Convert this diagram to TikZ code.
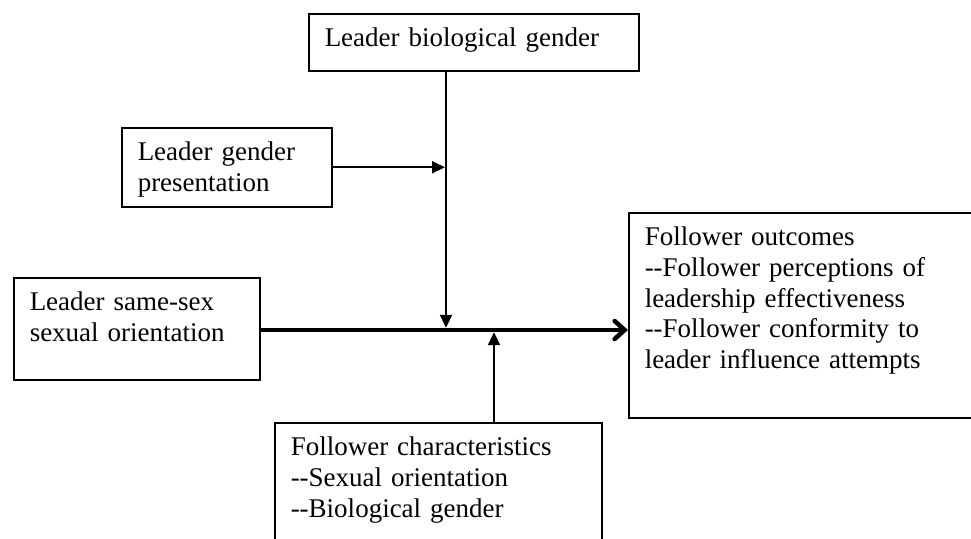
\documentclass[tikz,border=0pt]{standalone}
\usepackage{fontspec}
\setmainfont{Liberation Serif}
\usetikzlibrary{arrows.meta}

\begin{document}
\begin{tikzpicture}[x=0.5pt,y=-0.5pt,
  box/.style={draw,line width=0.75pt,anchor=north west,align=left,inner xsep=8pt,inner ysep=4pt,text height=12.5pt,font=\fontsize{13.5}{15.35}\selectfont},
  thinarrow/.style={line width=1pt,-{Triangle[length=6.5pt,width=6pt]}},
  mainarrow/.style={line width=2.25pt,-{Straight Barb[length=5pt,width=9pt,line cap=round]}}]
\path[use as bounding box,clip] (0,0) rectangle (971,538);
\node[box,text width=149pt,text depth=8pt] (bio) at (308,13) {Leader biological gender};
\node[box,text width=89pt,text depth=19pt] (pres) at (121,127) {Leader gender\\presentation};
\node[box,text width=107pt,text depth=30.5pt] (orient) at (13,277) {Leader same-sex\\sexual orientation};
\node[box,text width=174pt,text depth=82pt] (outc) at (628,212) {Follower outcomes\\-{}-Follower perceptions of\\leadership effectiveness\\-{}-Follower conformity to\\leader influence attempts};
\node[box,text width=147.5pt,text depth=48.5pt] (char) at (274,422) {Follower characteristics\\-{}-Sexual orientation\\-{}-Biological gender};
\coordinate (jbio) at (446,330);
\coordinate (jchar) at (494,330);
\draw[mainarrow] (jbio -| orient.east) -- (jbio -| outc.west);
\draw[thinarrow,shorten >=1.1pt] (bio.south -| jbio) -- (jbio);
\draw[thinarrow,shorten >=0.5pt] (pres.east) -- (pres.east -| jbio);
\draw[thinarrow,shorten >=1.1pt] (char.north -| jchar) -- (jchar);
\end{tikzpicture}
\end{document}
